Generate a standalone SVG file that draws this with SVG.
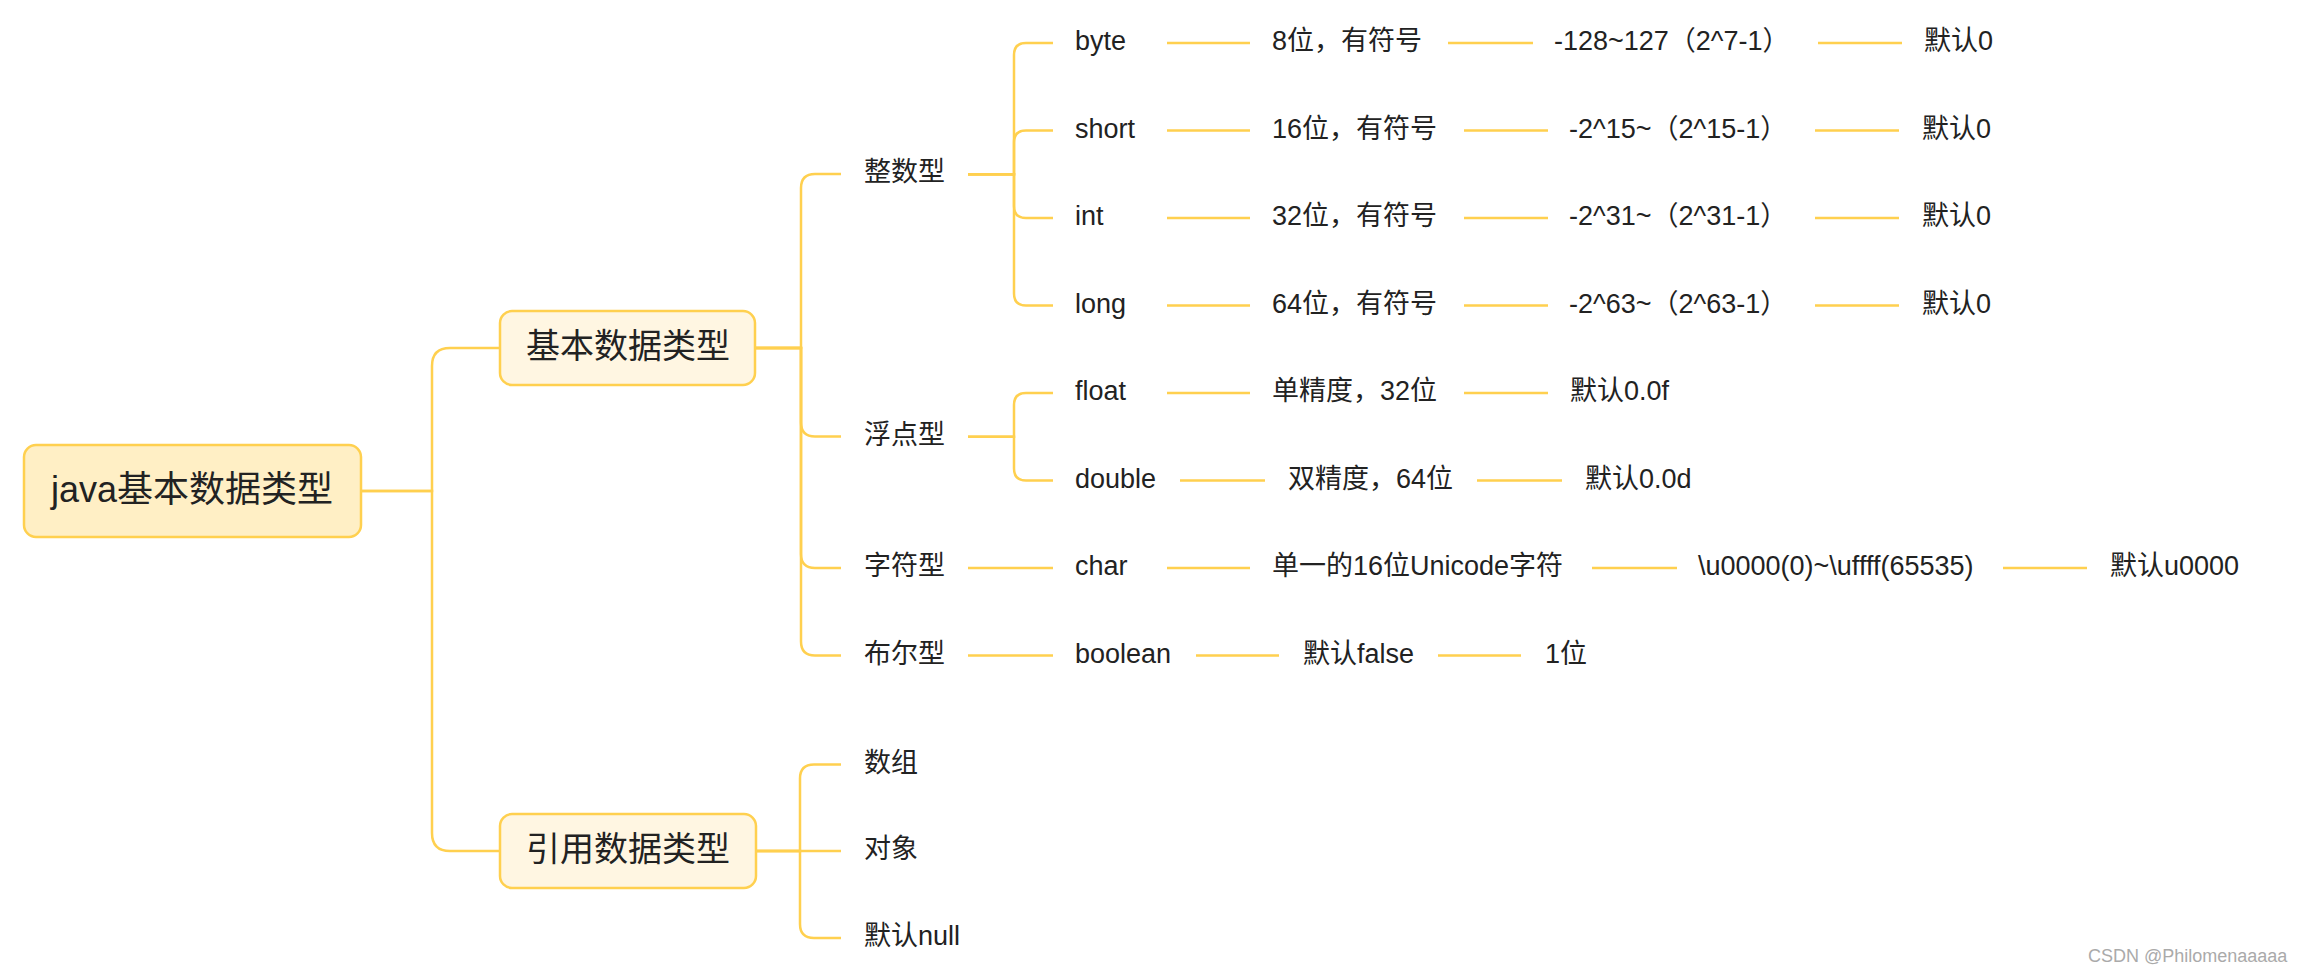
<svg xmlns="http://www.w3.org/2000/svg" width="2301" height="975" viewBox="0 0 2301 975">
<style>
text{font-family:"Liberation Sans","Noto Sans CJK SC",sans-serif;fill:#222;dominant-baseline:central;transform:translate(0px,-2px)}
.t{font-size:27px}
.b1{font-size:34px;text-anchor:middle}
.b0{font-size:36px;text-anchor:middle}
.box0{fill:#FFEFC5;stroke:#FFD04F;stroke-width:2.5}
.box1{fill:#FFF6E2;stroke:#FFD04F;stroke-width:2.5}
#connectors path{fill:none;stroke:#FFD04F;stroke-width:2.5}
.wm{font-size:18px;fill:#aaa}
</style>
<rect width="2301" height="975" fill="#fff"/>
<g id="connectors">
<path d="M361 491 H432 V366 Q432 348 450 348 H500"/>
<path d="M361 491 H432 V833 Q432 851 450 851 H500"/>
<path d="M755 348 H801 V188 Q801 174 815 174 H841"/>
<path d="M755 348 H801 V422.5 Q801 436.5 815 436.5 H841"/>
<path d="M755 348 H801 V554 Q801 568 815 568 H841"/>
<path d="M755 348 H801 V641.5 Q801 655.5 815 655.5 H841"/>
<path d="M756 851 H800 V778.5 Q800 764.5 814 764.5 H841"/>
<path d="M756 851 H841"/>
<path d="M756 851 H800 V924 Q800 938 814 938 H841"/>
<path d="M968 174.25 H1014 V55 Q1014 43 1026 43 H1053"/>
<path d="M968 174.25 H1014 V142.5 Q1014 130.5 1026 130.5 H1053"/>
<path d="M968 174.25 H1014 V206 Q1014 218 1026 218 H1053"/>
<path d="M968 174.25 H1014 V293.5 Q1014 305.5 1026 305.5 H1053"/>
<path d="M968 436.75 H1014 V405 Q1014 393 1026 393 H1053"/>
<path d="M968 436.75 H1014 V468.5 Q1014 480.5 1026 480.5 H1053"/>
<path d="M968 568 H1053"/>
<path d="M968 655.5 H1053"/>
<path d="M1167 43 H1250 M1448 43 H1533 M1818 43 H1902"/>
<path d="M1167 130.5 H1250 M1464 130.5 H1548 M1815 130.5 H1899"/>
<path d="M1167 218 H1250 M1464 218 H1548 M1815 218 H1899"/>
<path d="M1167 305.5 H1250 M1464 305.5 H1548 M1815 305.5 H1899"/>
<path d="M1167 393 H1250 M1464 393 H1548"/>
<path d="M1180 480.5 H1265 M1477 480.5 H1562"/>
<path d="M1167 568 H1250 M1592 568 H1677 M2003 568 H2087"/>
<path d="M1196 655.5 H1279 M1438 655.5 H1521"/>
</g>
<g id="root"><rect class="box0" x="24" y="445" width="337" height="92" rx="12"/><text class="b0" x="192" y="491">java基本数据类型</text></g>
<g id="basic"><rect class="box1" x="500" y="311" width="255" height="74" rx="12"/><text class="b1" x="628" y="348">基本数据类型</text></g>
<g id="ref"><rect class="box1" x="500" y="814" width="256" height="74" rx="12"/><text class="b1" x="628" y="851">引用数据类型</text></g>
<g id="int-type"><text class="t" x="864" y="174.25">整数型</text></g>
<g id="float-type"><text class="t" x="864" y="436.75">浮点型</text></g>
<g id="char-type"><text class="t" x="864" y="568">字符型</text></g>
<g id="bool-type"><text class="t" x="864" y="655.5">布尔型</text></g>
<g id="arr"><text class="t" x="864" y="764.5">数组</text></g>
<g id="obj"><text class="t" x="864" y="851">对象</text></g>
<g id="null"><text class="t" x="864" y="938">默认null</text></g>
<g id="byte"><text class="t" x="1075" y="43">byte</text></g>
<g id="byte-1"><text class="t" x="1272" y="43">8位，有符号</text></g>
<g id="byte-2"><text class="t" x="1554" y="43">-128~127（2^7-1）</text></g>
<g id="byte-3"><text class="t" x="1924" y="43">默认0</text></g>
<g id="short"><text class="t" x="1075" y="130.5">short</text></g>
<g id="short-1"><text class="t" x="1272" y="130.5">16位，有符号</text></g>
<g id="short-2"><text class="t" x="1569" y="130.5">-2^15~（2^15-1）</text></g>
<g id="short-3"><text class="t" x="1922" y="130.5">默认0</text></g>
<g id="int"><text class="t" x="1075" y="218">int</text></g>
<g id="int-1"><text class="t" x="1272" y="218">32位，有符号</text></g>
<g id="int-2"><text class="t" x="1569" y="218">-2^31~（2^31-1）</text></g>
<g id="int-3"><text class="t" x="1922" y="218">默认0</text></g>
<g id="long"><text class="t" x="1075" y="305.5">long</text></g>
<g id="long-1"><text class="t" x="1272" y="305.5">64位，有符号</text></g>
<g id="long-2"><text class="t" x="1569" y="305.5">-2^63~（2^63-1）</text></g>
<g id="long-3"><text class="t" x="1922" y="305.5">默认0</text></g>
<g id="float"><text class="t" x="1075" y="393">float</text></g>
<g id="float-1"><text class="t" x="1272" y="393">单精度，32位</text></g>
<g id="float-2"><text class="t" x="1570" y="393">默认0.0f</text></g>
<g id="double"><text class="t" x="1075" y="480.5">double</text></g>
<g id="double-1"><text class="t" x="1288" y="480.5">双精度，64位</text></g>
<g id="double-2"><text class="t" x="1585" y="480.5">默认0.0d</text></g>
<g id="char"><text class="t" x="1075" y="568">char</text></g>
<g id="char-1"><text class="t" x="1272" y="568">单一的16位Unicode字符</text></g>
<g id="char-2"><text class="t" x="1698" y="568">\u0000(0)~\uffff(65535)</text></g>
<g id="char-3"><text class="t" x="2110" y="568">默认u0000</text></g>
<g id="boolean"><text class="t" x="1075" y="655.5">boolean</text></g>
<g id="boolean-1"><text class="t" x="1303" y="655.5">默认false</text></g>
<g id="boolean-2"><text class="t" x="1545" y="655.5">1位</text></g>
<text class="wm" x="2088" y="958">CSDN @Philomenaaaaa</text>
</svg>
